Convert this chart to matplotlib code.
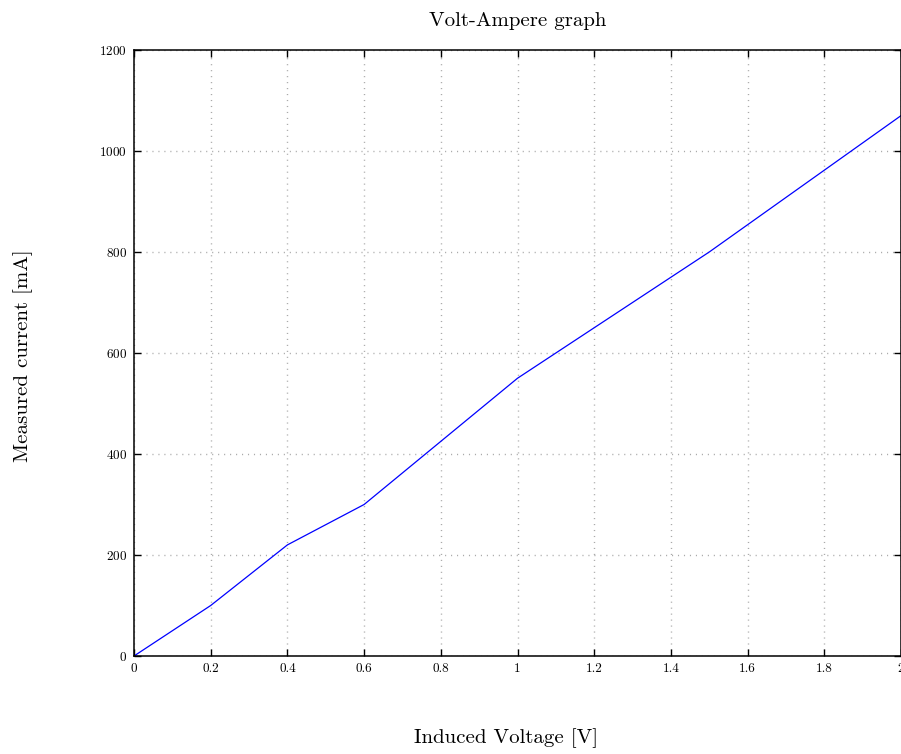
import matplotlib
matplotlib.use("Agg")
import matplotlib.pyplot as plt

plt.rcParams["font.family"] = ["cmr10", "DejaVu Serif"]
plt.rcParams["mathtext.fontset"] = "cm"
plt.rcParams["axes.formatter.use_mathtext"] = True

# measured points
voltage = [0, 0.2, 0.4, 0.6, 1.0, 1.5, 2.0]
current = [0, 100, 220, 300, 550, 800, 1070]
xticks = [0, 0.2, 0.4, 0.6, 0.8, 1, 1.2, 1.4, 1.6, 1.8, 2]
xtick_labels = ["0", "0.2", "0.4", "0.6", "0.8", "1", "1.2", "1.4", "1.6", "1.8", "2"]
yticks = [0, 200, 400, 600, 800, 1000, 1200]

fig = plt.figure(figsize=(9.01, 7.54), dpi=100)
ax = fig.add_axes([134 / 901, 1 - 656 / 754, 767 / 901, 606 / 754])

ax.plot(voltage, current, color="#0000ff", lw=0.9)

ax.set_xlim(0, 2)
ax.set_ylim(0, 1200)
ax.set_xticks(xticks)
ax.set_xticklabels(xtick_labels)
ax.set_yticks(yticks)
ax.tick_params(direction="in", top=True, right=True, length=5, width=1,
               labelsize=9.5, pad=5)
for s in ax.spines.values():
    s.set_linewidth(1.1)
ax.grid(True, ls=(0, (0.8, 3.5)), color="#aaaaaa", lw=1.0)

ax.set_title("Volt-Ampere graph", fontsize=15, pad=17)
ax.set_xlabel("Induced Voltage [V]", fontsize=15)
ax.set_ylabel("Measured current [mA]", fontsize=15)
ax.xaxis.set_label_coords((506 - 134) / 767, (656 - 728) / 606)
ax.yaxis.set_label_coords((33 - 134) / 767, 0.495)

fig.savefig("out.png", dpi=100)
